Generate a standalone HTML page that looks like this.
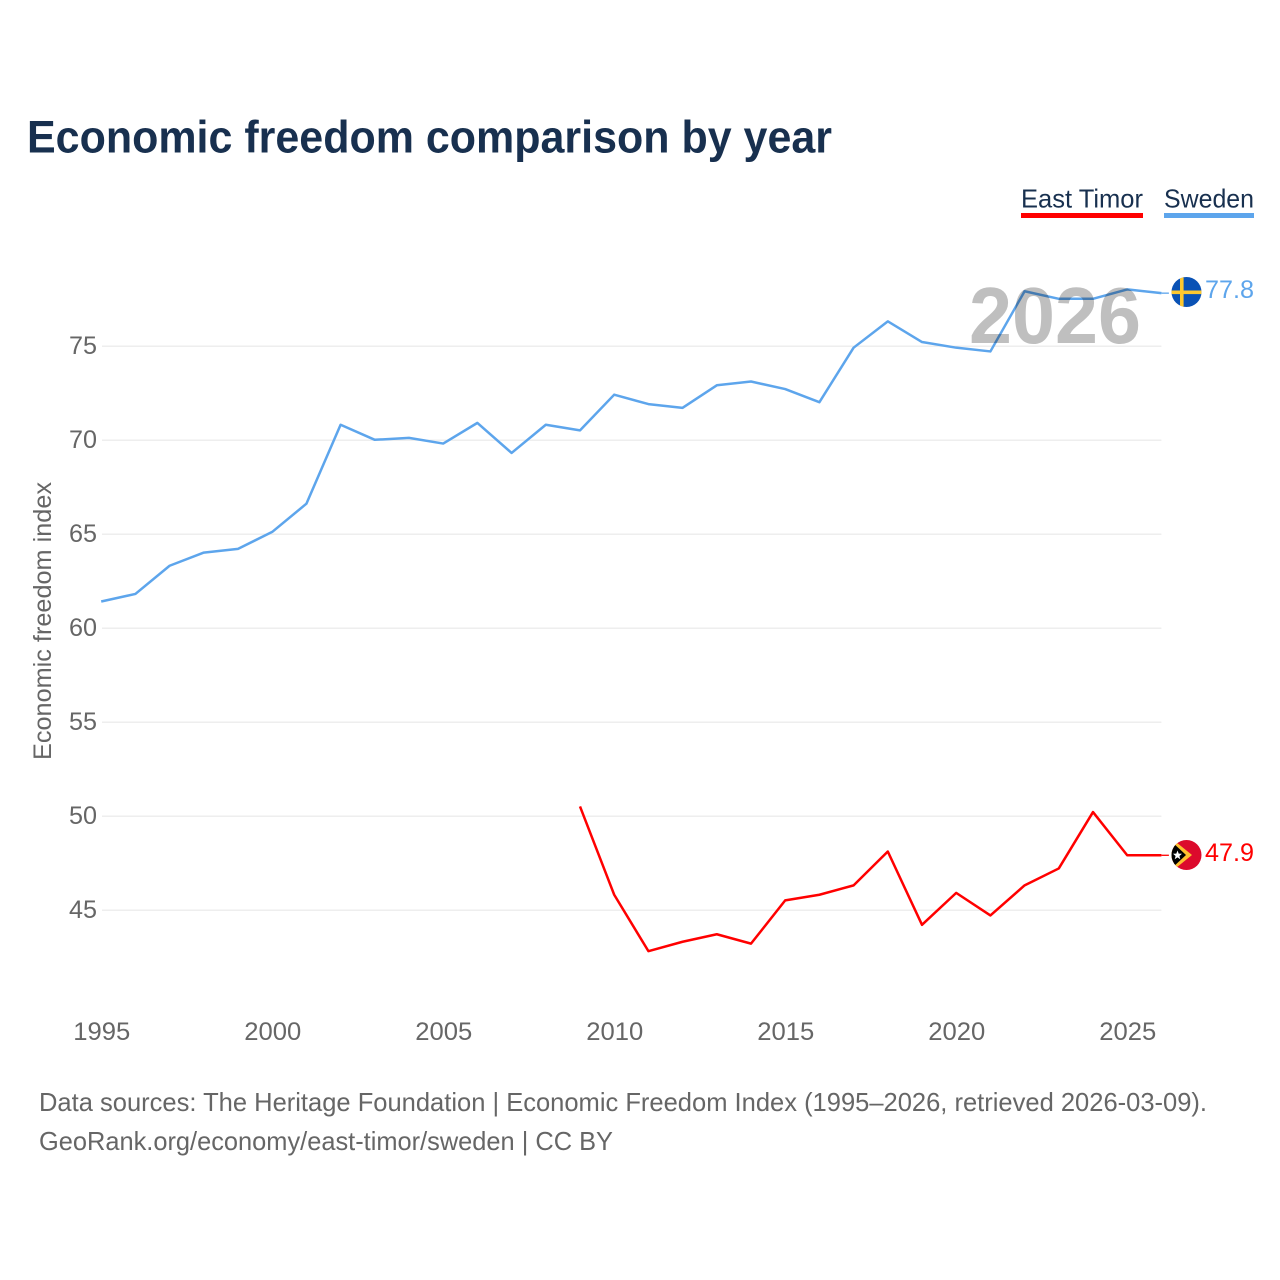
<!DOCTYPE html>
<html lang="en">
<head>
<meta charset="utf-8">
<title>Economic freedom comparison by year</title>
<style>
html,body{margin:0;padding:0;background:#fff}
svg{display:block}
text{font-family:"Liberation Sans",Arial,sans-serif}
</style>
</head>
<body>
<svg id="chart" xmlns="http://www.w3.org/2000/svg" width="1280" height="1280" viewBox="0 0 1280 1280">
  <text x="27" y="152.5" font-size="45" font-weight="700" fill="#18304f" textLength="805" lengthAdjust="spacingAndGlyphs">Economic freedom comparison by year</text>

  <g id="grid"></g>
  <g id="yticks"></g>
  <g id="xticks"></g>

  <text transform="translate(51,621) rotate(-90)" text-anchor="middle" font-size="25" fill="#666" textLength="278" lengthAdjust="spacingAndGlyphs">Economic freedom index</text>

  <g id="series"></g>

  <text x="969" y="343" font-size="80" font-weight="700" fill="#000" fill-opacity="0.25" textLength="172" lengthAdjust="spacingAndGlyphs">2026</text>

  <g>
    <text x="1021" y="207.5" font-size="26" fill="#18304f" textLength="122" lengthAdjust="spacingAndGlyphs">East Timor</text>
    <rect x="1021" y="213" width="122" height="5" fill="#ff0000"/>
  </g>
  <g>
    <text x="1164" y="207.5" font-size="26" fill="#18304f" textLength="90" lengthAdjust="spacingAndGlyphs">Sweden</text>
    <rect x="1164" y="213" width="90" height="5" fill="#5da5ec"/>
  </g>

  <defs>
    <clipPath id="flag-clip-se"><circle cx="1186.5" cy="292" r="15"/></clipPath>
    <clipPath id="flag-clip-tl"><circle cx="1186.5" cy="855" r="15"/></clipPath>
  </defs>
  <g clip-path="url(#flag-clip-se)">
    <rect x="1171" y="277" width="31" height="30" fill="#0a52b5"/>
    <rect x="1180" y="277" width="3.6" height="30" fill="#fdc82f"/>
    <rect x="1171" y="290.5" width="31" height="3.6" fill="#fdc82f"/>
  </g>
  <g clip-path="url(#flag-clip-tl)">
    <rect x="1171" y="840" width="31" height="30" fill="#dc0a2c"/>
    <polygon points="1171,838 1192,855 1171,872" fill="#fdc02f"/>
    <polygon points="1171,841 1186,855 1171,869" fill="#000"/>
    <polygon points="1177.5,850.5 1178.7,853.6 1182,853.8 1179.4,856 1180.3,859.2 1177.5,857.4 1174.7,859.2 1175.6,856 1173,853.8 1176.3,853.6" fill="#fff"/>
  </g>

  <text x="1205" y="298" font-size="25" fill="#5da5ec" textLength="49" lengthAdjust="spacingAndGlyphs">77.8</text>
  <text x="1205" y="861" font-size="25" fill="#ff0000" textLength="49" lengthAdjust="spacingAndGlyphs">47.9</text>

  <text x="39" y="1111" font-size="26" fill="#666" textLength="1168" lengthAdjust="spacingAndGlyphs">Data sources: The Heritage Foundation | Economic Freedom Index (1995–2026, retrieved 2026-03-09).</text>
  <text x="39" y="1150" font-size="26" fill="#666" textLength="574" lengthAdjust="spacingAndGlyphs">GeoRank.org/economy/east-timor/sweden | CC BY</text>
</svg>
<script>
const years = [1995,1996,1997,1998,1999,2000,2001,2002,2003,2004,2005,2006,2007,2008,2009,2010,2011,2012,2013,2014,2015,2016,2017,2018,2019,2020,2021,2022,2023,2024,2025,2026];
const swedenValues = [61.4,61.8,63.3,64.0,64.2,65.1,66.6,70.8,70.0,70.1,69.8,70.9,69.3,70.8,70.5,72.4,71.9,71.7,72.9,73.1,72.7,72.0,74.9,76.3,75.2,74.9,74.7,77.9,77.5,77.5,78.0,77.8];
const eastTimorValues = [null,null,null,null,null,null,null,null,null,null,null,null,null,null,50.5,45.8,42.8,43.3,43.7,43.2,45.5,45.8,46.3,48.1,44.2,45.9,44.7,46.3,47.2,50.2,47.9,47.9];
const yTickValues = [45,50,55,60,65,70,75];
const xTickValues = [1995,2000,2005,2010,2015,2020,2025];

const NS = 'http://www.w3.org/2000/svg';
function xScale(year) { return 101.2 + (year - 1995) * 34.2; }
function yScale(value) { return 345.8 + (75 - value) * 18.8; }

function make(tag, attrs, parent) {
  const el = document.createElementNS(NS, tag);
  for (const k in attrs) el.setAttribute(k, attrs[k]);
  parent.appendChild(el);
  return el;
}

const gridGroup = document.getElementById('grid');
const yGroup = document.getElementById('yticks');
const xGroup = document.getElementById('xticks');
const seriesGroup = document.getElementById('series');

yTickValues.forEach(function (v) {
  const gy = yScale(v) + 0.4;
  const line = make('line', {x1: xScale(1995) + 0.8, x2: xScale(2026), y1: gy, y2: gy, stroke: '#e9e9e9', 'stroke-width': 1.2}, gridGroup);
  
  
  const label = make('text', {x: 97, y: gy + 8, 'text-anchor': 'end', 'font-size': 25, fill: '#666', textLength: 28, lengthAdjust: 'spacingAndGlyphs'}, yGroup);
  
  
  label.textContent = v;
});

xTickValues.forEach(function (v) {
  const label = make('text', {x: xScale(v) - 27.9, y: 1040, 'font-size': 25, fill: '#666', textLength: 57, lengthAdjust: 'spacingAndGlyphs'}, xGroup);
  
  
  label.textContent = v;
});

function drawSeries(values, color, name) {
  const pts = [];
  values.forEach(function (v, i) {
    if (v !== null) pts.push(xScale(years[i]) + ',' + yScale(v));
  });
  const path = make('polyline', {points: pts.join(' '), fill: 'none', stroke: color, 'stroke-width': 2.5, 'stroke-linejoin': 'round'}, seriesGroup);
  
  
  const lastIdx = values.length - 1;
  const lastY = yScale(values[lastIdx]);
  const lead = make('line', {x1: xScale(years[lastIdx]), x2: xScale(years[lastIdx]) + 7.5, y1: lastY, y2: lastY, stroke: color, 'stroke-width': 1.3}, seriesGroup);
  
  
}

drawSeries(swedenValues, '#5da5ec', 'sweden');
drawSeries(eastTimorValues, '#ff0000', 'east-timor');
</script>
</body>
</html>
